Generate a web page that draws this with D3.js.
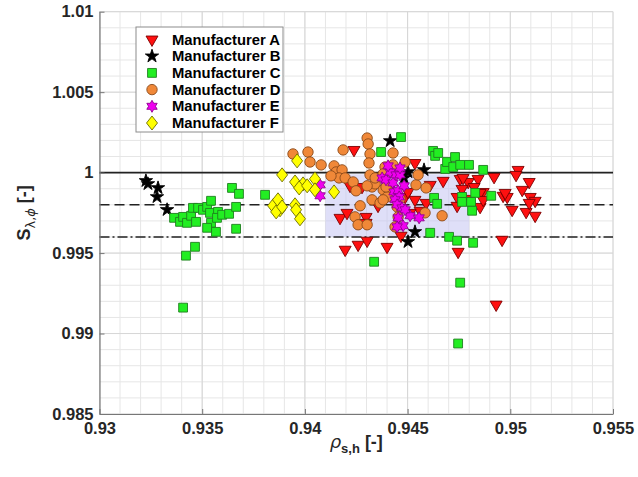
<!DOCTYPE html>
<html><head><meta charset="utf-8">
<script src="https://cdn.jsdelivr.net/npm/d3@7"></script>
<style>body{margin:0;background:#fff}svg{display:block}text{font-family:"Liberation Sans",Arial,sans-serif}</style>
</head><body><svg id="c" width="638" height="477"></svg>
<script>
// ---------------- data ----------------
const categories = ["Manufacturer A","Manufacturer B","Manufacturer C","Manufacturer D","Manufacturer E","Manufacturer F"];
const xTicks = [0.93,0.935,0.94,0.945,0.95,0.955];
const xTickLabels = ["0.93","0.935","0.94","0.945","0.95","0.955"];
const yTicks = [0.985,0.99,0.995,1,1.005,1.01];
const yTickLabels = ["0.985","0.99","0.995","1","1.005","1.01"];
const refLines = [1.0, 0.998, 0.996];
const shadeX = [0.941, 0.948];
const shadeY = [0.996, 0.9999];

const seriesA = [[0.94239,1.00141],[0.94278,0.99911],[0.9422,0.99918],[0.94171,0.99719],[0.94205,0.9975],[0.94196,0.99521],[0.94259,0.99552],[0.94303,0.99577],[0.944,0.99539],[0.94356,0.99794],[0.94298,0.99725],[0.94298,0.99688],
[0.94536,1.0006],[0.9461,0.99924],[0.94673,0.99949],[0.94756,0.99961],[0.94795,0.99942],[0.94843,0.99961],[0.94921,0.99973],[0.95038,1.00017],[0.95028,0.99986],[0.95092,0.99942],[0.95058,0.99893],
[0.94488,0.99849],[0.94561,0.99763],[0.9459,0.99812],[0.94741,0.99849],[0.94741,0.99794],[0.94853,0.99787],[0.94868,0.9988],[0.94824,0.99911],[0.94765,0.99899],[0.94804,0.99837],[0.9477,0.99967],
[0.94965,0.99856],[0.94985,0.99849],[0.94975,0.99874],[0.95009,0.99769],[0.95077,0.99756],[0.95097,0.99849],[0.95121,0.99825],[0.95092,0.99812],[0.95121,0.99732],[0.94853,0.99874],[0.94868,0.99831],
[0.94468,0.99608],[0.94746,0.99508],[0.9496,0.99583],[0.94931,0.9918],[0.94502,0.9988],[0.94536,0.99831],[0.94512,0.9975]];
const seriesB = [[0.93226,0.99949],[0.93236,0.9993],[0.93285,0.99905],[0.9328,0.99849],[0.93329,0.99769],[0.94415,1.00197],[0.94502,1.00004],[0.9458,1.00017],[0.94483,0.99967],[0.94536,0.99632],[0.94502,0.9957]];
const seriesC = [[0.93363,0.99719],[0.93392,0.99694],[0.93407,0.99725],[0.93426,0.99688],[0.93446,0.99732],[0.9347,0.99694],[0.93455,0.99781],[0.9348,0.99781],[0.93504,0.99769],[0.93524,0.99787],[0.93543,0.99825],[0.93538,0.9975],[0.93543,0.99688],[0.93524,0.99657],[0.93567,0.99632],[0.93577,0.99756],[0.93572,0.99719],[0.93597,0.99738],[0.93631,0.99744],[0.93665,0.99787],[0.93645,0.99905],[0.93679,0.99868],[0.93665,0.99651],[0.93465,0.99539],[0.93421,0.99484],[0.93407,0.99161],[0.93806,0.99862],
[0.94371,1.00128],[0.94468,1.00221],[0.94624,1.00135],[0.94634,1.00104],[0.94649,1.00122],[0.94683,1.00023],[0.94692,1.00066],[0.94722,1.00035],[0.94731,1.00097],[0.94756,1.00048],[0.94799,1.00048],[0.94868,1.00017],[0.94829,0.99874],[0.94907,0.99856],[0.94765,0.99849],[0.94765,0.99818],[0.94809,0.99818],[0.94814,0.99763],[0.94629,0.99843],[0.94644,0.99806],[0.9461,0.99626],[0.94702,0.99601],[0.94741,0.99577],[0.94819,0.99564],[0.94756,0.99316],[0.94746,0.98938],[0.94337,0.99446]];
const seriesD = [[0.93942,1.00116],[0.94015,1.00128],[0.94025,1.00066],[0.94079,1.00048],[0.94142,1.00042],[0.94152,1.00004],[0.94181,1.00017],[0.94166,0.99967],[0.94127,0.9998],[0.94196,0.99967],[0.94186,1.00141],[0.94303,1.00215],[0.94308,1.00178],[0.94317,1.00116],[0.94312,1.0006],[0.94235,0.99942],[0.94249,0.99887],[0.94317,0.99986],[0.94327,0.99911],[0.94342,0.9993],[0.94342,0.99967],[0.94303,0.99918],[0.94327,0.99831],[0.94366,0.99812],[0.94381,0.99893],[0.94415,0.99893],[0.944,0.99849],[0.94269,0.99794],[0.94244,0.99725],[0.94259,0.99676],[0.94303,0.99676],[0.9439,1.00035],[0.94429,1.00122],[0.94429,1.00048],[0.94488,1.00066],[0.94381,0.99992],[0.94395,0.99911],[0.94381,0.99831],[0.94449,0.99787],[0.94463,0.99837],[0.94439,0.99663],[0.94541,0.99924],[0.9459,0.99905],[0.94585,0.9975],[0.94668,0.99732],[0.94454,0.99725],[0.94551,0.99986]];
const seriesE = [[0.94074,0.99924],[0.94074,0.99856],[0.94376,0.99967],[0.94395,0.99955],[0.94415,1.00004],[0.94429,0.99936],[0.94444,0.99986],[0.94434,0.9988],[0.94454,0.99887],[0.94459,0.99849],[0.94439,0.99831],[0.94449,0.998],[0.94473,0.99781],[0.94454,0.99719],[0.94512,0.99732],[0.94556,0.99719],[0.94478,0.9967],[0.94449,0.99663],[0.94488,0.99769],[0.94463,0.99986],[0.94405,1.00042],[0.94483,0.99918],[0.94463,1.00029]];
const seriesF = [[0.93962,1.00073],[0.93889,0.99986],[0.93952,0.99942],[0.93991,0.9993],[0.93972,0.99905],[0.94011,0.99918],[0.94049,0.99961],[0.94049,0.99893],[0.94142,0.9988],[0.93845,0.99794],[0.93869,0.99831],[0.93879,0.99769],[0.9386,0.99756],[0.93889,0.99787],[0.93952,0.998],[0.93957,0.99769],[0.93976,0.99713]];
const allSeries = [seriesA, seriesB, seriesC, seriesD, seriesE, seriesF];

// ---------------- styles ----------------
const L = 99.5, R = 613, T = 11.7, B = 414;
const svg = d3.select("#c");
const x = d3.scaleLinear().domain([0.93,0.955]).range([L,R]);
const y = d3.scaleLinear().domain([0.985,1.01]).range([B,T]);

function hexagram(r){
  const pts=[];
  for(let i=0;i<12;i++){const a=-Math.PI/2+i*Math.PI/6; const rr=i%2?r/Math.sqrt(3):r; pts.push([rr*Math.cos(a),rr*Math.sin(a)]);}
  return "M"+pts.map(p=>p.join(",")).join("L")+"Z";
}
function diamond(w,h){return `M0,${-h/2}L${w/2},0L0,${h/2}L${-w/2},0Z`;}
const styles = [
  {path:d3.symbol(d3.symbolTriangle,62)(), rot:180, fill:"#ff1010", stroke:"#7a0000"},
  {path:d3.symbol(d3.symbolStar,55)(), rot:0, fill:"#000", stroke:"#000"},
  {path:d3.symbol(d3.symbolSquare,78)(), rot:0, fill:"#22ee22", stroke:"#1f7f1f"},
  {path:d3.symbol(d3.symbolCircle,85)(), rot:0, fill:"#f08838", stroke:"#8a4a1a"},
  {path:hexagram(6), rot:0, fill:"#f000f0", stroke:"#900090"},
  {path:diamond(11,14), rot:0, fill:"#ffff00", stroke:"#6b6b00"}
];

// grid
const gGrid = svg.append("g");
const minorX = x.ticks(25), minorY = y.ticks(25);
gGrid.selectAll(".vx").data(minorX).join("line").attr("x1",d=>x(d)).attr("x2",d=>x(d)).attr("y1",T).attr("y2",B).attr("stroke","#e6e6e6").attr("stroke-width",1);
gGrid.selectAll(".hy").data(minorY).join("line").attr("y1",d=>y(d)).attr("y2",d=>y(d)).attr("x1",L).attr("x2",R).attr("stroke","#e6e6e6").attr("stroke-width",1);
gGrid.selectAll(".vX").data(xTicks).join("line").attr("x1",d=>x(d)).attr("x2",d=>x(d)).attr("y1",T).attr("y2",B).attr("stroke","#d6d6d6").attr("stroke-width",1);
gGrid.selectAll(".hY").data(yTicks).join("line").attr("y1",d=>y(d)).attr("y2",d=>y(d)).attr("x1",L).attr("x2",R).attr("stroke","#d6d6d6").attr("stroke-width",1);

// shaded region
svg.append("rect").attr("x",x(shadeX[0])).attr("y",y(shadeY[1])).attr("width",x(shadeX[1])-x(shadeX[0])).attr("height",y(shadeY[0])-y(shadeY[1]))
  .attr("fill","#c4c4f2").attr("opacity",0.55);

// reference lines
const dashes = [null,"10,5","10,3,2,3"];
svg.selectAll(".ref").data(refLines).join("line").attr("x1",L).attr("x2",R).attr("y1",d=>y(d)).attr("y2",d=>y(d))
  .attr("stroke","#222").attr("stroke-width",1.6).attr("stroke-dasharray",(d,i)=>dashes[i]);

// axes
const ax = svg.append("g").attr("transform",`translate(0,${B})`).call(d3.axisBottom(x).tickValues(xTicks).tickFormat((d,i)=>xTickLabels[i]).tickSizeInner(-5).tickSizeOuter(0).tickPadding(8));
const ay = svg.append("g").attr("transform",`translate(${L},0)`).call(d3.axisLeft(y).tickValues(yTicks).tickFormat((d,i)=>yTickLabels[i]).tickSizeInner(-5).tickSizeOuter(0).tickPadding(6));
[ax,ay].forEach(g=>{g.select(".domain").attr("stroke","#777").attr("stroke-width",1.2);g.selectAll(".tick line").attr("stroke","#777");
  g.selectAll("text").attr("font-size",16.5).attr("font-weight","bold").attr("fill","#262626").attr("font-family",'"Liberation Sans",Arial,sans-serif');});

// markers
allSeries.forEach((s,i)=>{
  const st=styles[i];
  svg.append("g").selectAll("path").data(s).join("path").attr("d",st.path)
    .attr("transform",d=>`translate(${x(d[0])},${y(d[1])}) rotate(${st.rot})`)
    .attr("fill",st.fill).attr("stroke",st.stroke).attr("stroke-width",0.9);
});

// legend
const lg = svg.append("g");
lg.append("rect").attr("x",136).attr("y",27).attr("width",147).attr("height",105).attr("fill","#fff").attr("stroke","#8c8c8c").attr("stroke-width",1);
categories.forEach((c,i)=>{
  const yy=39.5+i*16.7, st=styles[i];
  lg.append("path").attr("d",st.path).attr("transform",`translate(152,${yy}) rotate(${st.rot})`).attr("fill",st.fill).attr("stroke",st.stroke).attr("stroke-width",0.9);
  lg.append("text").attr("x",172).attr("y",yy+5).attr("font-size",14.8).attr("font-weight","bold").attr("fill","#000").text(c);
});

// axis titles
const xl = svg.append("text").attr("x",(L+R)/2).attr("y",448).attr("text-anchor","middle").attr("font-size",18).attr("fill","#262626");
xl.append("tspan").attr("font-family","DejaVu Sans").attr("font-style","italic").text("ρ");
xl.append("tspan").attr("font-weight","bold").attr("font-size",13).attr("dy",5).text("s,h");
xl.append("tspan").attr("font-weight","bold").attr("dy",-5).text(" [-]");

const yl = svg.append("text").attr("transform",`translate(30,${(T+B)/2}) rotate(-90)`).attr("text-anchor","middle").attr("font-size",18).attr("fill","#262626");
yl.append("tspan").attr("font-weight","bold").text("S");
yl.append("tspan").attr("font-size",13).attr("dy",5).attr("font-family","DejaVu Sans").text("λ,");
yl.append("tspan").attr("font-size",13).attr("font-style","italic").attr("font-family","DejaVu Sans").text("ϕ");
yl.append("tspan").attr("font-weight","bold").attr("dy",-5).text(" [-]");
</script></body></html>
